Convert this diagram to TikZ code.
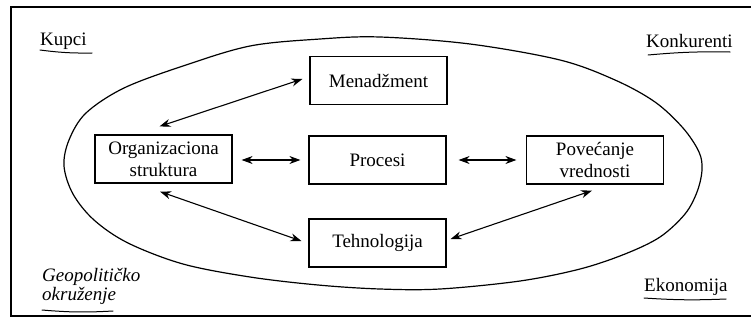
\documentclass[tikz,border=0pt]{standalone}
\usepackage{fontspec}
\setmainfont{Liberation Serif}
\usetikzlibrary{arrows.meta}
\begin{document}
\begin{tikzpicture}[x=1pt,y=-1pt,
  box/.style={draw, line width=1.2pt, minimum width=137pt, minimum height=48pt,
    inner sep=0pt, align=center, font=\fontsize{19}{22}\selectfont},
  link/.style={{Stealth[length=11pt,width=8pt]}-{Stealth[length=11pt,width=8pt]},
    line width=1.1pt},
  env/.style={inner sep=0pt, align=left, anchor=base west,
    font=\fontsize{19}{17}\selectfont},
  uline/.style={line width=1pt, line cap=round}
]
\useasboundingbox (0,0) rectangle (751,324);

% outer frame (right side runs off the page)
\draw[line width=1.6pt] (770,7) -- (11,7) -- (11,316) -- (770,316);

% company boundary
\draw[line width=1.2pt] plot[smooth cycle, tension=0.55] coordinates {
  (64,166) (69,140) (86,113) (124,88) (183,66) (250,46) (320,39) (380,37)
  (470,44) (560,60) (615,80) (655,102) (683,128) (699,152) (702,170)
  (697,192) (685,214) (660,237) (625,254) (580,269) (520,281) (440,289)
  (380,289) (318,285) (250,277) (183,264) (128,243) (94,220) (73,194)};

% internal elements
\node[box] (men)  at (378.5,80.5) {Menadžment};
\node[box] (org)  at (163.5,159)  {Organizaciona\\struktura};
\node[box] (proc) at (377.5,160)  {Procesi};
\node[box] (pov)  at (595,160)    {Povećanje\\vrednosti};
\node[box] (teh)  at (377.5,243)  {Tehnologija};

% relations
\draw[link] ([shift={(-4,-8)}]org.north) -- ([shift={(-7,-1.5)}]men.west);
\draw[link] ([shift={(9,1)}]org.east) -- ([shift={(-8,0)}]proc.west);
\draw[link] ([shift={(12,0)}]proc.east) -- ([shift={(-9.5,0)}]pov.west);
\draw[link] ([shift={(-3.5,8)}]org.south) -- ([shift={(-7,-2)}]teh.west);
\draw[link] ([shift={(4,-4)}]teh.east) -- ([shift={(-3,6)}]pov.south);

% environment factors
\node[env] (kupci) at (40,45)  {Kupci};
\node[env] (konk)  at (646,47) {Konkurenti};
\node[env, font=\fontsize{19}{17}\selectfont\itshape] (geo) at (42,300) {Geopolitičko\\okruženje};
\node[env] (eko)   at (644,291) {Ekonomija};

\draw[uline] ([shift={(0,5)}]kupci.base west) to[bend right=4] ([shift={(52,8)}]kupci.base west);
\draw[uline] ([shift={(2,8)}]konk.base west) to[bend left=3] ([shift={(84,5)}]konk.base west);
\draw[uline] ([shift={(0,10)}]geo.base west) to[bend right=4] ([shift={(71,11)}]geo.base west);
\draw[uline] ([shift={(0,7)}]eko.base west) to[bend right=3] ([shift={(82,8)}]eko.base west);
\end{tikzpicture}
\end{document}
